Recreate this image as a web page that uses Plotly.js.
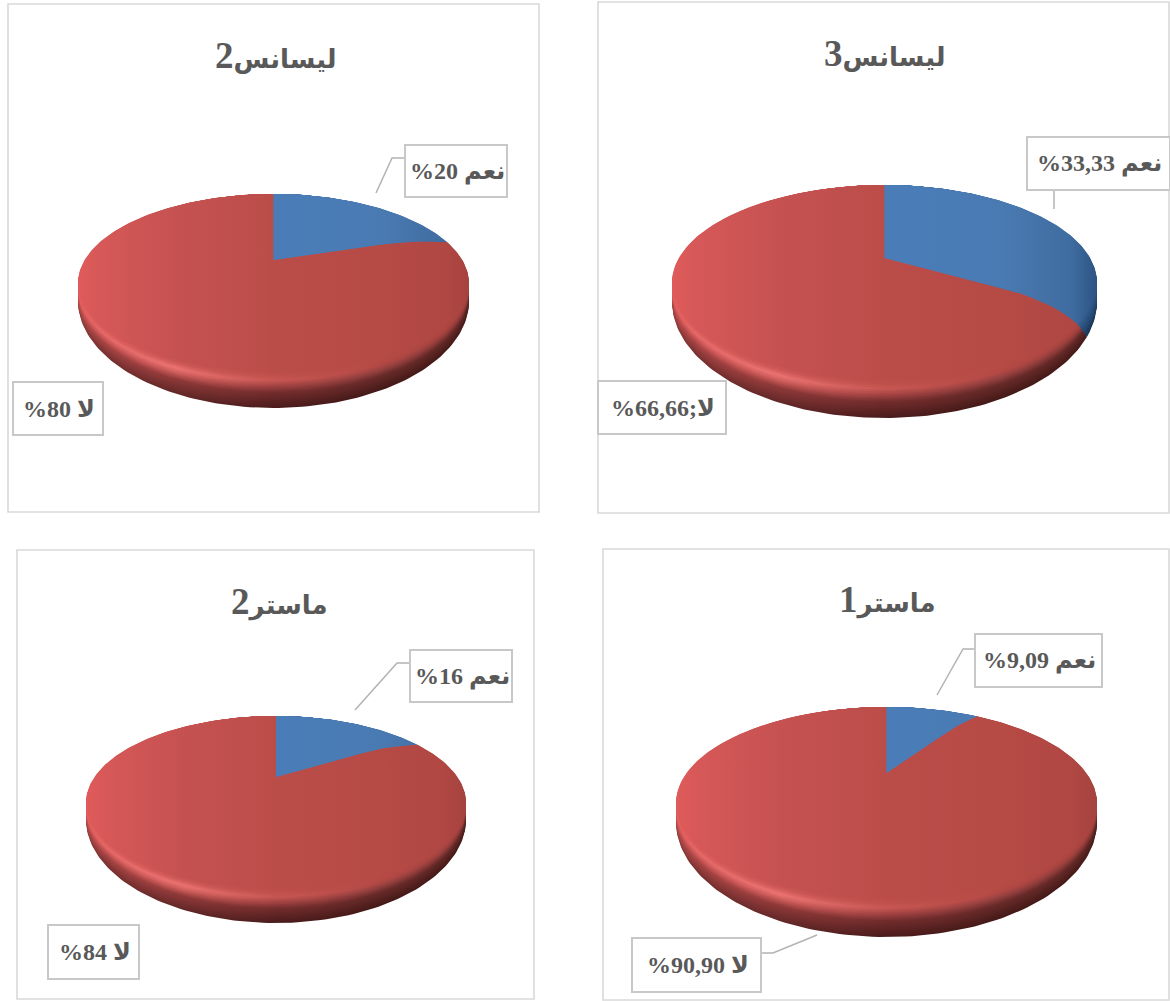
<!DOCTYPE html>
<html>
<head>
<meta charset="utf-8">
<script src="https://cdn.plot.ly/plotly-3.0.1.min.js"></script>
<style>html,body{margin:0;padding:0;background:#fff}#chart{width:1170px;height:1001px}</style>
</head>
<body>
<div id="chart"></div>
<script>
// ---- data ----
const chartNames = ["ليسانس", "ليسانس", "ماستر", "ماستر"];
const chartNumbers = ["3", "2", "1", "2"];
const yesValues = [33.33, 20, 9.09, 16];
const noValues = [66.66, 80, 90.90, 84];
const yesLabels = ["%33,33 نعم", "%20 نعم", "%9,09 نعم", "%16 نعم"];
const noLabels = ["%66,66;لا", "%80 لا", "%90,90 لا", "%84 لا"];

// ---- placement (pixels of the page, the axes run 0..1170 and 1001..0) ----
const frames = [[598,2,1169,513],[8,4,539,512],[603,549,1169,1000],[17,550,534,999]];
const titleXY = [[885,53],[276,55],[887,599],[279,601]];
// left, right, top of disc, bottom of disc, apex y, thickness
const discs = [[672,1097,185,380,258,38],[78,469,194,372,260,36],[676,1097,707,899,773,38],[86,466,716,889,777,34]];
const rimBends = [7.5, 5, 2, 4.8];
const yesBoxes = [[1027,137,1170,190],[405,145,507,197],[975,634,1102,687],[410,650,512,702]];
const noBoxes = [[598,381,726,434],[13,382,103,435],[632,938,761,992],[48,925,139,979]];
const leaders = [
  "M1054,190 L1054,209", "M404,158 L392,158 L376,193",
  "M975,649 L963,649 L937,695", "M410,663 L397,663 L355,710",
  "M761,953 L773,953 L817,935"
];

// ---- shading: colour stops across the disc (left to right), per depth row ----
const stopX = [0, 0.05, 0.25, 0.5, 0.78, 0.94, 1];
const redRows = [
  {d:0.00, c:["#e05b5b","#d75858","#c55251","#bb4d49","#b64a45","#b04743","#a6433f"]},
  {d:0.12, c:["#e25c5c","#dc5b5b","#d05a58","#bf4f4b","#b64a45","#ae4642","#a6433f"]},
  {d:0.26, c:["#e25d5d","#e46a68","#ec7472","#c85752","#b24844","#a5423f","#9c3e3b"]},
  {d:0.40, c:["#d85858","#d05858","#cc5c5a","#a64444","#944040","#8a3a38","#823634"]},
  {d:0.60, c:["#bc4c4c","#a64444","#8e3838","#722c2c","#662a28","#622826","#5e2624"]},
  {d:1.00, c:["#8a3a3a","#7a3030","#642828","#4c1c1c","#451a18","#451a18","#451a18"]}
];
const blueRows = [
  {d:0.00, c:["#4777ae","#4777ae","#4a7ab4","#4a7db8","#4a7ab2","#3f6ca0","#2c5484"]},
  {d:0.50, c:["#3a6494","#3a6494","#3a6494","#35598a","#2f5484","#2a4e7a","#234a74"]},
  {d:1.00, c:["#27456c","#27456c","#27456c","#234066","#1f3a5e","#1c3554","#1c3554"]}
];
const bandCount = 20;

function hex(c){return [1,3,5].map(i=>parseInt(c.slice(i,i+2),16));}
function rowAt(rows,t){
  let i=0; while(i<rows.length-2 && t>rows[i+1].d) i++;
  const a=rows[i], b=rows[i+1], f=Math.min(1,Math.max(0,(t-a.d)/(b.d-a.d)));
  return a.c.map((c,j)=>{const p=hex(c),q=hex(b.c[j]);
    return 'rgb('+p.map((v,k)=>Math.round(v+(q[k]-v)*f)).join(',')+')';});
}
// Perspective view of a round pie: angle from 12 o'clock, clockwise.
// Each deeper band is a taller ellipse on the same top edge, so the wall tapers to the sides.
function projector(disc,t){
  const [l,r,top,bot,apex,depth]=disc;
  const up=apex-top, dn=bot+depth*t-apex, k=(dn-up)/(dn+up), B=up*(1+k);
  const cx=(l+r)/2, A=(r-l)/2*Math.sqrt(1-k*k);
  return (rad,th)=>{
    const u=rad*Math.sin(th), v=rad*Math.cos(th), w=1+k*v;
    return [cx+A*u/w, apex-B*v/w];
  };
}
function bend(rad,deg){
  const f=Math.max(0,(rad-0.6)/0.4);
  return deg*Math.PI/180*f*f;
}
function sector(disc,from,to,t,bendFrom,bendTo){
  const P=projector(disc,t), pts=[];
  const a=from+bend(1,bendFrom), b=to+bend(1,bendTo);
  for(let i=0;i<=20;i++){const rad=i/20; pts.push(P(rad,from+bend(rad,bendFrom)));}
  const n=Math.max(8,Math.round((b-a)/0.02));
  for(let i=1;i<n;i++) pts.push(P(1,a+(b-a)*i/n));
  for(let i=20;i>=0;i--){const rad=i/20; pts.push(P(rad,to+bend(rad,bendTo)));}
  return pts;
}
function sliceTrace(disc,from,to,t,bendFrom,bendTo,rows,name){
  const s=sector(disc,from,to,t,bendFrom,bendTo), cols=rowAt(rows,t);
  return {type:'scatter',mode:'lines',x:s.map(p=>p[0]),y:s.map(p=>p[1]),name:name,
    line:{width:0},fill:'toself',hoverinfo:'skip',showlegend:false,
    fillgradient:{type:'horizontal',start:disc[0],stop:disc[1],
      colorscale:stopX.map((p,j)=>[p,cols[j]])}};
}

const traces=[];
discs.forEach((disc,i)=>{
  const share=yesValues[i]/(yesValues[i]+noValues[i])*2*Math.PI;
  for(let b=bandCount;b>=0;b--){
    const t=b/bandCount;
    traces.push(sliceTrace(disc,share,2*Math.PI,t,rimBends[i],0,redRows,'لا'));
    traces.push(sliceTrace(disc,0,share,t,0,rimBends[i],blueRows,'نعم'));
  }
});

const shapes=[], annotations=[];
const grey='#595959';
const family='"Liberation Serif","DejaVu Sans",serif';
frames.forEach(f=>shapes.push({type:'rect',x0:f[0],y0:f[1],x1:f[2],y1:f[3],
  line:{color:'#d9d9d9',width:1.6},fillcolor:'rgba(0,0,0,0)',layer:'below'}));
leaders.forEach(p=>shapes.push({type:'path',path:p,line:{color:'#b3b3b3',width:1.5}}));
function addBox(box,text){
  shapes.push({type:'rect',x0:box[0],y0:box[1],x1:box[2],y1:box[3],
    line:{color:'#c8c8c8',width:2},fillcolor:'#ffffff',layer:'above'});
  annotations.push({x:(box[0]+box[2])/2+1,y:(box[1]+box[3])/2,xref:'x',yref:'y',text:text,showarrow:false,
    font:{family:family,size:24,color:grey,weight:700}});
}
yesBoxes.forEach((b,i)=>addBox(b,yesLabels[i]));
noBoxes.forEach((b,i)=>addBox(b,noLabels[i]));
titleXY.forEach((p,i)=>annotations.push({x:p[0],y:p[1],xref:'x',yref:'y',
  text:chartNames[i]+'<span style="font-size:37px">'+chartNumbers[i]+'</span>',showarrow:false,
  font:{family:family,size:26,color:grey,weight:700}}));

Plotly.newPlot('chart',traces,{
  width:1170,height:1001,margin:{l:0,r:0,t:0,b:0},
  paper_bgcolor:'#ffffff',plot_bgcolor:'#ffffff',showlegend:false,
  xaxis:{range:[0,1170],visible:false,fixedrange:true},
  yaxis:{range:[1001,0],visible:false,fixedrange:true},
  shapes:shapes,annotations:annotations
},{displayModeBar:false,staticPlot:true});
</script>
</body>
</html>
